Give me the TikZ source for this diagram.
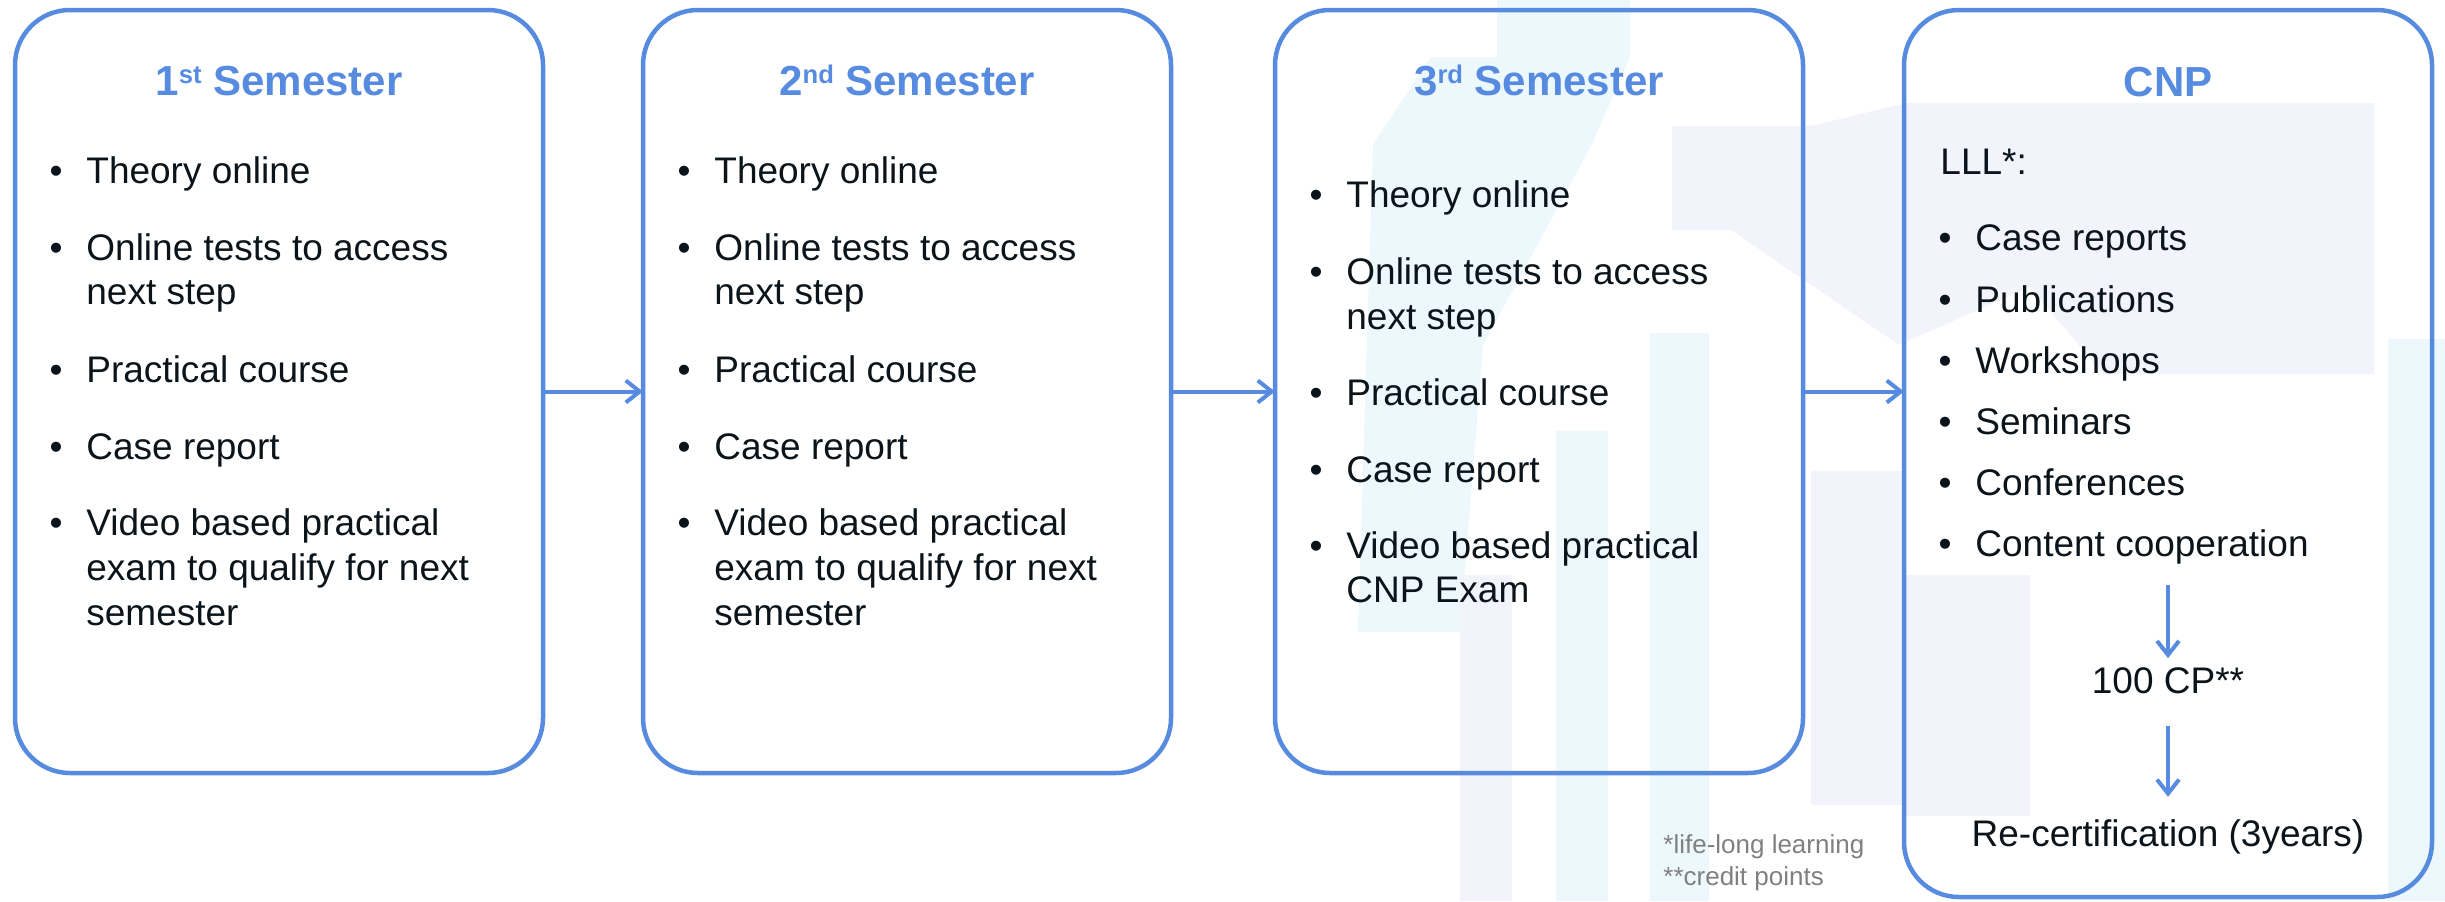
\documentclass[tikz,border=0pt]{standalone}
\usepackage{fontspec}
\setmainfont{Liberation Sans}
\usetikzlibrary{arrows.meta}
\definecolor{cblue}{RGB}{86,139,224}
\definecolor{ctext}{RGB}{10,20,26}
\definecolor{cgray}{RGB}{128,128,128}
\definecolor{wcyan}{RGB}{237,248,253}
\definecolor{wlav}{RGB}{243,244,251}
\newcommand\mysups[1]{\raisebox{5.85pt}{\fontsize{12.8}{13}\selectfont #1}}
\newcommand\bulitem[4]{%
  \node[bul] (#1b) at ({#2+41},#3) {\textbullet};
  \node[txt] (#1) at ({#2+71},#3) {#4};}
\newcommand\contline[4]{\node[txt] (#1) at ({#2+71},#3) {#4};}
\begin{document}
\begin{tikzpicture}[x=0.5pt,y=-0.5pt,
  box/.style={draw=cblue, line width=2.25pt, rounded corners=27.5pt, inner sep=0pt, outer sep=0pt, minimum width=264pt},
  arr/.style={draw=cblue, line width=2pt, -{Straight Barb[length=7pt,width=11pt]}},
  ttl/.style={anchor=base, inner sep=0pt, text=cblue, font=\fontsize{21}{25}\selectfont\bfseries},
  txt/.style={anchor=base west, inner sep=0pt, text=ctext, font=\fontsize{18.5}{22}\selectfont},
  bul/.style={anchor=base, inner sep=0pt, text=ctext, font=\fontsize{18.5}{22}\selectfont},
  note/.style={anchor=base west, inner sep=0pt, text=cgray, font=\fontsize{13}{15}\selectfont}]
\useasboundingbox (0,0) rectangle (2445,901);
% faint watermark
\fill[wcyan] (1497,0) -- (1630,0) -- (1630,57) -- (1592,144) -- (1483,345) -- (1460,632) -- (1358,632) -- (1373,144) -- (1431,57) -- (1497,57) -- cycle;
\fill[wcyan] (1556,431) rectangle (1608,901);
\fill[wcyan] (1650,333) rectangle (1709,901);
\fill[wcyan] (2388,339) rectangle (2445,901);
\fill[wlav] (1460,575) rectangle (1512,901);
\fill[wlav] (1672,126) -- (1811,126) -- (1906,103) -- (2374,103) -- (2374,374) -- (2103,374) -- (2030,287) -- (1899,345) -- (1731,230) -- (1672,230) -- cycle;
\fill[wlav] (1811,471) rectangle (1906,805);
\fill[wlav] (1906,575) rectangle (2030,816);
% boxes
\node[box, minimum height=381.5pt] (b1) at (279,391.5) {};
\node[box, minimum height=381.5pt] (b2) at (907,391.5) {};
\node[box, minimum height=381.5pt] (b3) at (1539,391.5) {};
\node[box, minimum height=443.5pt] (b4) at (2168,453.5) {};
% arrows between boxes
\draw[arr] (b1.east) -- (b2.west);
\draw[arr] (b2.east) -- (b3.west);
\draw[arr] (b3.east) -- (b3.east -| b4.west);
% titles
\node[ttl] (t1) at (279,95) {1\mysups{st} Semester};
\node[ttl] (t2) at (907,95) {2\mysups{nd} Semester};
\node[ttl] (t3) at (1539,95) {3\mysups{rd} Semester};
\node[ttl] (t4) at (2168,96) {CNP};
% box 1
\bulitem{a1}{15}{183}{Theory online}
\bulitem{a2}{15}{260}{Online tests to access}
\contline{a2x}{15}{304}{next step}
\bulitem{a3}{15}{382}{Practical course}
\bulitem{a4}{15}{459}{Case report}
\bulitem{a5}{15}{535}{Video based practical}
\contline{a5x}{15}{580}{exam to qualify for next}
\contline{a5y}{15}{625}{semester}
% box 2
\bulitem{c1}{643}{183}{Theory online}
\bulitem{c2}{643}{260}{Online tests to access}
\contline{c2x}{643}{304}{next step}
\bulitem{c3}{643}{382}{Practical course}
\bulitem{c4}{643}{459}{Case report}
\bulitem{c5}{643}{535}{Video based practical}
\contline{c5x}{643}{580}{exam to qualify for next}
\contline{c5y}{643}{625}{semester}
% box 3
\bulitem{d1}{1275}{207}{Theory online}
\bulitem{d2}{1275}{284}{Online tests to access}
\contline{d2x}{1275}{329}{next step}
\bulitem{d3}{1275}{405}{Practical course}
\bulitem{d4}{1275}{482}{Case report}
\bulitem{d5}{1275}{558}{Video based practical}
\contline{d5x}{1275}{602}{CNP Exam}
% box 4
\node[txt] (lll) at (1940,174) {LLL*:};
\bulitem{e1}{1904}{250}{Case reports}
\bulitem{e2}{1904}{312}{Publications}
\bulitem{e3}{1904}{373}{Workshops}
\bulitem{e4}{1904}{434}{Seminars}
\bulitem{e5}{1904}{495}{Conferences}
\bulitem{e6}{1904}{556}{Content cooperation}
\coordinate (k1) at (2168,585);
\node[anchor=base, inner sep=0pt, text=ctext, font=\fontsize{18.5}{22}\selectfont] (cp) at (2168,693) {100 CP**};
\node[anchor=base, inner sep=0pt, text=ctext, font=\fontsize{18.5}{22}\selectfont] (rc) at (2168,846) {Re-certification (3years)};
\draw[arr] (k1) -- ([yshift=4.3pt]cp.north);
\draw[arr] ([yshift=-16pt]cp.south) -- ([yshift=11pt]rc.north);
% footnotes
\node[note] (n1) at (1663,853) {*life-long learning};
\node[note] (n2) at (1663,885) {**credit points};
\end{tikzpicture}
\end{document}
